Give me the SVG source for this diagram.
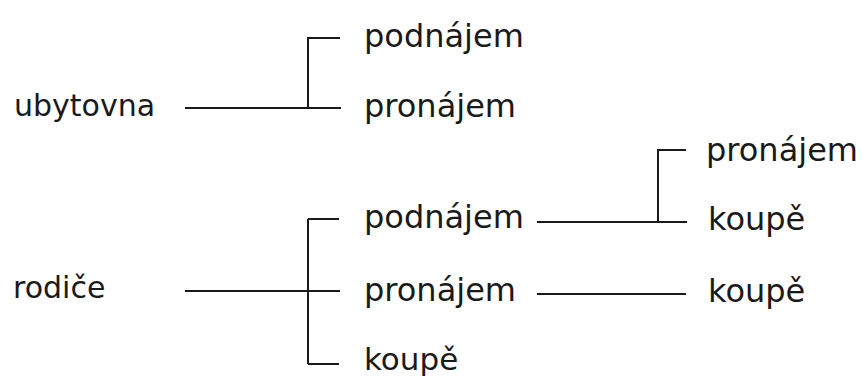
<svg xmlns="http://www.w3.org/2000/svg" width="862" height="379" viewBox="0 0 862 379">
<style>
text{font-family:"DejaVu Sans","Liberation Sans",sans-serif;fill:#1a1a1a}
.l{font-size:30px}
.r{font-size:32px}
.c{stroke:#1a1a1a;stroke-width:2;fill:none}
</style>
<rect width="862" height="379" fill="#ffffff"/>
<g id="connectors">
<path class="c" d="M185 108H341M308 108V38H340"/>
<path class="c" d="M185 291H340M308 219V364M308 219H339M308 364H339"/>
<path class="c" d="M537 222H687M658 222V150H686"/>
<path class="c" d="M537 294H686"/>
</g>
<g id="n-ubytovna"><text class="l" x="14" y="116">ubytovna</text></g>
<g id="n-podnajem1"><text class="r" x="364" y="47">podnájem</text></g>
<g id="n-pronajem1"><text class="r" x="364" y="117">pronájem</text></g>
<g id="n-rodice"><text class="l" x="13" y="298">rodiče</text></g>
<g id="n-podnajem2"><text class="r" x="364" y="228">podnájem</text></g>
<g id="n-pronajem2"><text class="r" x="364" y="301">pronájem</text></g>
<g id="n-koupe1"><text class="r" x="364" y="370" style="font-size:31px">koupě</text></g>
<g id="n-pronajem3"><text class="r" x="706" y="161">pronájem</text></g>
<g id="n-koupe2"><text class="r" x="708" y="230">koupě</text></g>
<g id="n-koupe3"><text class="r" x="708" y="302">koupě</text></g>
</svg>
